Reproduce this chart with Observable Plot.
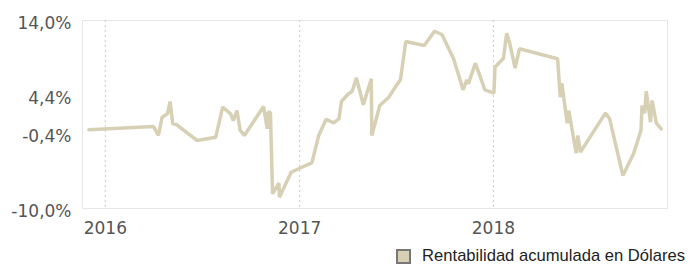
<!DOCTYPE html>
<html>
<head>
<meta charset="utf-8">
<script src="https://cdn.jsdelivr.net/npm/d3@7"></script>
<script src="https://cdn.jsdelivr.net/npm/@observablehq/plot@0.6"></script>
<style>
  body { margin: 0; background: #fff; }
  #chart { width: 689px; }
  .legend { display: flex; justify-content: flex-end; align-items: center; height: 32px; padding-right: 4px;
            font-family: "Liberation Sans", Arial, sans-serif; font-size: 16.6px; color: #222; }
  .swatch { width: 11px; height: 11px; background: #d8d0b5; border: 2px solid #777; margin-right: 11px; }
</style>
</head>
<body>
<div id="chart"></div>
<script>
const dates = [
  "2015-12-01","2016-04-01","2016-04-10","2016-04-17","2016-04-27","2016-05-02","2016-05-07","2016-05-14",
  "2016-06-22","2016-07-27","2016-08-09","2016-08-24","2016-08-29","2016-09-05","2016-09-11","2016-09-19",
  "2016-10-25","2016-11-01","2016-11-03","2016-11-07","2016-11-11","2016-11-23","2016-11-24","2016-12-16",
  "2017-01-02","2017-01-24","2017-02-06","2017-02-20","2017-03-06","2017-03-16","2017-03-21","2017-04-03",
  "2017-04-10","2017-04-18","2017-05-01","2017-05-16","2017-05-17","2017-06-01","2017-06-18","2017-06-27",
  "2017-07-10","2017-07-20","2017-08-24","2017-09-12","2017-09-26","2017-10-18","2017-11-05","2017-11-12",
  "2017-11-15","2017-11-28","2017-12-16","2018-01-02","2018-01-04","2018-01-20","2018-01-26","2018-02-01",
  "2018-02-11","2018-02-19","2018-05-02","2018-05-07","2018-05-10","2018-05-20","2018-05-23","2018-06-06",
  "2018-06-09","2018-06-14","2018-07-31","2018-08-08","2018-09-02","2018-09-22","2018-10-06","2018-10-08",
  "2018-10-13","2018-10-16","2018-10-24","2018-10-27","2018-11-04","2018-11-13"
];
const values = [
  0.05, 0.47, -0.68, 1.66, 2.09, 3.66, 0.81, 0.72,
  -1.32, -0.9, 2.93, 2.09, 1.23, 2.51, -0.04, -0.68,
  3.02, 0.17, 2.29, 2.29, -8.12, -6.77, -8.56, -5.37,
  -4.83, -4.17, -0.68, 1.4, 0.94, 1.45, 3.7, 4.64,
  4.97, 6.68, 3.24, 6.56, -0.68, 3.15, 4.21, 5.15,
  6.47, 11.32, 10.81, 12.63, 12.21, 9.11, 5.15, 6.43,
  5.92, 8.55, 5.15, 4.72, 8.04, 9.17, 12.38, 11.03,
  7.91, 10.39, 9.11, 4.21, 6.0, 0.89, 2.51, -2.94,
  -0.68, -2.81, 2.17, 1.45, -5.79, -3.02, -0.04, 3.15,
  2.17, 4.97, 1.02, 3.79, 0.89, 0.17
];
const yTicks = [14, 4.4, -0.4, -10];
const yearTicks = ["2016-01-01", "2017-01-01", "2018-01-01"];
const seriesName = "Rentabilidad acumulada en Dólares";

const data = dates.map((d, i) => ({date: new Date(d), value: values[i]}));
const years = yearTicks.map(d => new Date(d));
const fmt = v => v.toFixed(1).replace(".", ",") + "%";

const chart = Plot.plot({
  width: 689,
  height: 240,
  marginLeft: 82,
  marginRight: 22,
  marginTop: 20,
  marginBottom: 32,
  style: {fontFamily: "'DejaVu Sans', Verdana, sans-serif", background: "#fff"},
  x: {type: "utc", domain: [new Date("2015-11-19"), new Date("2018-11-25")]},
  y: {domain: [-10, 14]},
  marks: [
    Plot.frame({stroke: "#e6e6e6"}),
    Plot.ruleX(years, {stroke: "#cccccc", strokeDasharray: "2,3", strokeWidth: 1}),
    Plot.line(data, {x: "date", y: "value", stroke: "#d8d0b5", strokeWidth: 3.5, strokeLinejoin: "miter"}),
    Plot.axisY({ticks: yTicks, tickFormat: fmt, tickSize: 0, tickPadding: 11, fontSize: 17, fill: "#555", dy: 3, label: null}),
    Plot.axisX({ticks: years, tickFormat: d => d3.utcFormat("%Y")(d), tickSize: 0, tickPadding: 13, fontSize: 17, fill: "#555", label: null})
  ]
});
document.getElementById("chart").appendChild(chart);

const legend = document.createElement("div");
legend.className = "legend";
legend.innerHTML = `<span class="swatch"></span><span>${seriesName}</span>`;
document.getElementById("chart").appendChild(legend);
</script>
</body>
</html>
